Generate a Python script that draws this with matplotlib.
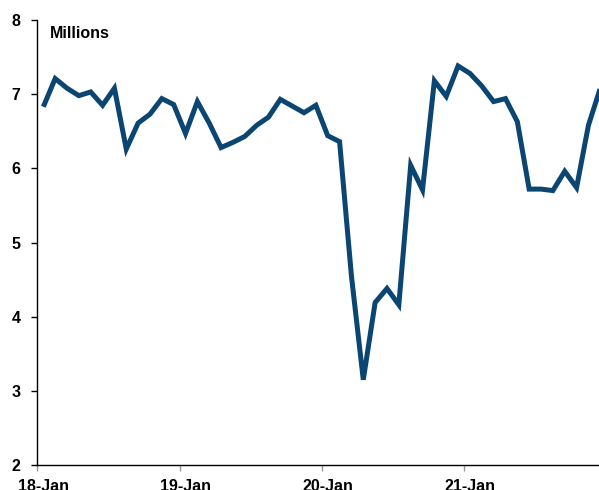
import matplotlib
matplotlib.use("Agg")
import matplotlib.pyplot as plt
import numpy as np

# Monthly values, Jan 2018 - Dec 2021 (millions)
values = [6.83, 7.21, 7.08, 6.98, 7.03, 6.85, 7.08, 6.26, 6.61, 6.73, 6.94, 6.86,
          6.47, 6.90, 6.61, 6.28, 6.35, 6.43, 6.58, 6.69, 6.93, 6.84, 6.75, 6.85,
          6.44, 6.36, 4.55, 3.15, 4.19, 4.38, 4.16, 6.04, 5.71, 7.18, 6.97, 7.38,
          7.28, 7.11, 6.90, 6.94, 6.63, 5.72, 5.72, 5.70, 5.96, 5.74, 6.58, 7.08]
tick_labels = ["18-Jan", "19-Jan", "20-Jan", "21-Jan"]
unit_label = "Millions"

plt.rcParams['font.family'] = ['Liberation Sans', 'DejaVu Sans']
FS = 11.5

fig = plt.figure(figsize=(5.99, 4.90), dpi=100)
ax = fig.add_axes([37.4/599, 25/490, 1 - 37.4/599, 445/490])

x = np.arange(len(values)) + 0.5
ax.plot(x, values, color="#0B4572", lw=3.6, solid_joinstyle="miter", solid_capstyle="butt")

ax.set_xlim(0, (599 - 37.4) / 11.85)
ax.set_ylim(2, 8)

ax.set_yticks(range(2, 9))
ax.set_yticklabels([str(v) for v in range(2, 9)], fontweight="bold", fontsize=FS)
ax.tick_params(axis="y", direction="out", length=4, width=1, color="black", pad=8)

major = [0, 12, 24, 36]
ax.set_xticks(major)
ax.set_xticklabels([""] * 4)
ax.set_xticks([m + 0.5 for m in major], minor=True)
ax.set_xticklabels(tick_labels, minor=True, fontweight="bold", fontsize=FS)
ax.tick_params(axis="x", which="major", direction="out", length=4, width=1, color="#999999")
ax.tick_params(axis="x", which="minor", length=0, pad=10)

for s in ["top", "right"]:
    ax.spines[s].set_visible(False)
for s in ["left", "bottom"]:
    ax.spines[s].set_linewidth(1)
    ax.spines[s].set_color("black")

ax.text(50/599, 1 - 34/490, unit_label, transform=fig.transFigure, fontsize=FS,
        fontweight="bold", va="center", ha="left")

fig.savefig("out.png", dpi=100)
